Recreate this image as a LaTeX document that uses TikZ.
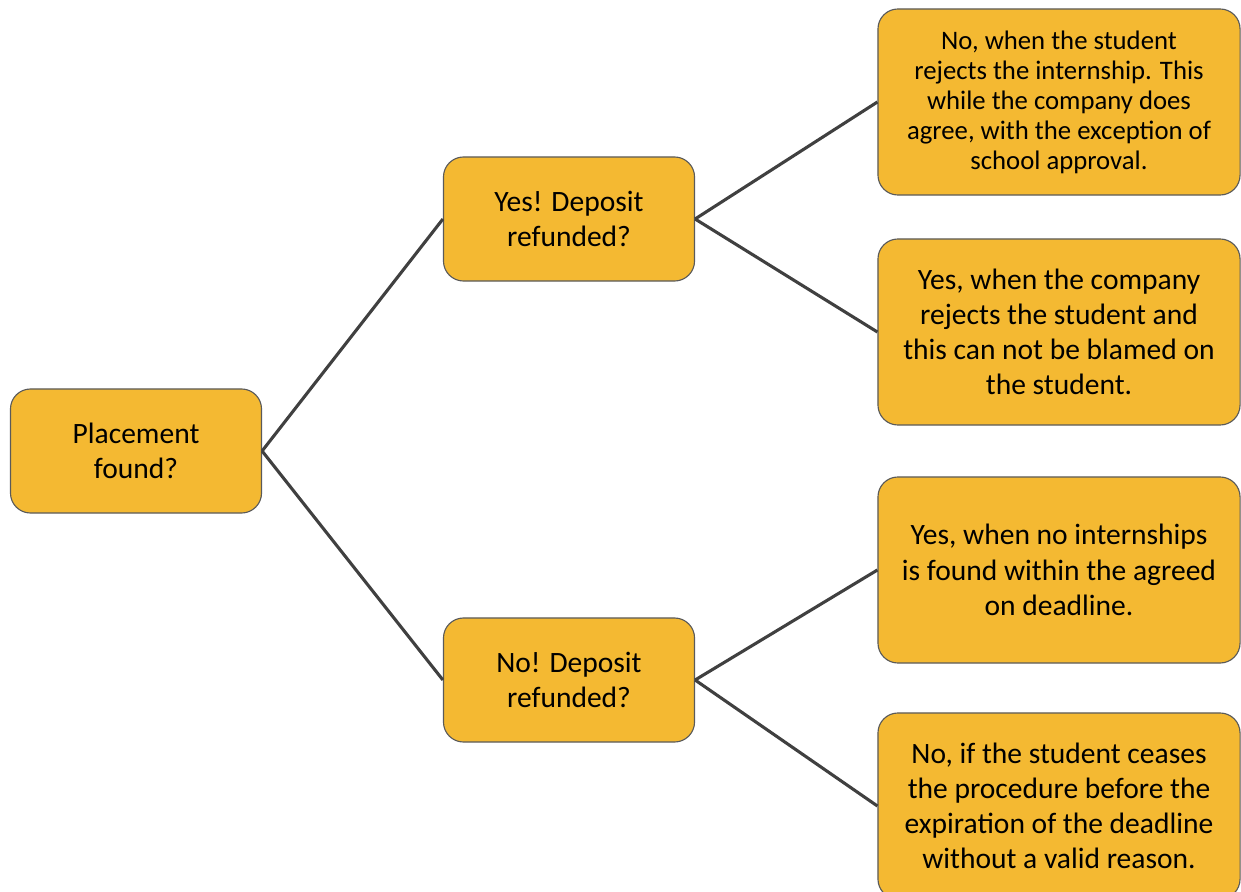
\documentclass[tikz,border=0pt]{standalone}
\usepackage{fontspec}
\setmainfont{Carlito}
\usepackage{xcolor}
\usetikzlibrary{arrows.meta, positioning}

\definecolor{boxfill}{RGB}{244,185,50}
\definecolor{boxline}{RGB}{90,90,90}
\definecolor{linkline}{RGB}{64,64,64}

\begin{document}
\begin{tikzpicture}[
        x=0.025cm, y=-0.025cm,
        question/.style={rectangle, draw=boxline, line width=0.8pt, fill=boxfill, rounded corners=0.5cm, minimum width=6.275cm, minimum height=3.1cm, align=center, font=\fontsize{21}{25}\selectfont},
        answer/.style={rectangle, draw=boxline, line width=0.8pt, fill=boxfill, rounded corners=0.5cm, minimum width=9.05cm, minimum height=4.65cm, align=center, font=\fontsize{21}{25}\selectfont},
        link/.style={draw=linkline, line width=2.2pt},
    ]
        \useasboundingbox (0,0) rectangle (1241,892);

        % Questions
        \node[question] (placement) at (136,451) {Placement\\found?};
        \node[question] (yes) at (569,219) {Yes! Deposit\\refunded?};
        \node[question] (no) at (569,680) {No! Deposit\\refunded?};

        % Answers
        \node[answer, font=\fontsize{19}{21.3}\selectfont] (yesno) at (1059,102) {No, when the student\\rejects the internship. This\\while the company does\\agree, with the exception of\\school approval.};
        \node[answer] (yesyes) at (1059,332) {Yes, when the company\\rejects the student and\\this can not be blamed on\\the student.};
        \node[answer] (noyes) at (1059,570) {Yes, when no internships\\is found within the agreed\\on deadline.};
        \node[answer] (nono) at (1059,806) {No, if the student ceases\\the procedure before the\\expiration of the deadline\\without a valid reason.};

        % Links
        \draw[link] (placement.east) -- (yes.west);
        \draw[link] (placement.east) -- (no.west);
        \draw[link] (yes.east) -- (yesno.west);
        \draw[link] (yes.east) -- (yesyes.west);
        \draw[link] (no.east) -- (noyes.west);
        \draw[link] (no.east) -- (nono.west);
    \end{tikzpicture}
\end{document}
